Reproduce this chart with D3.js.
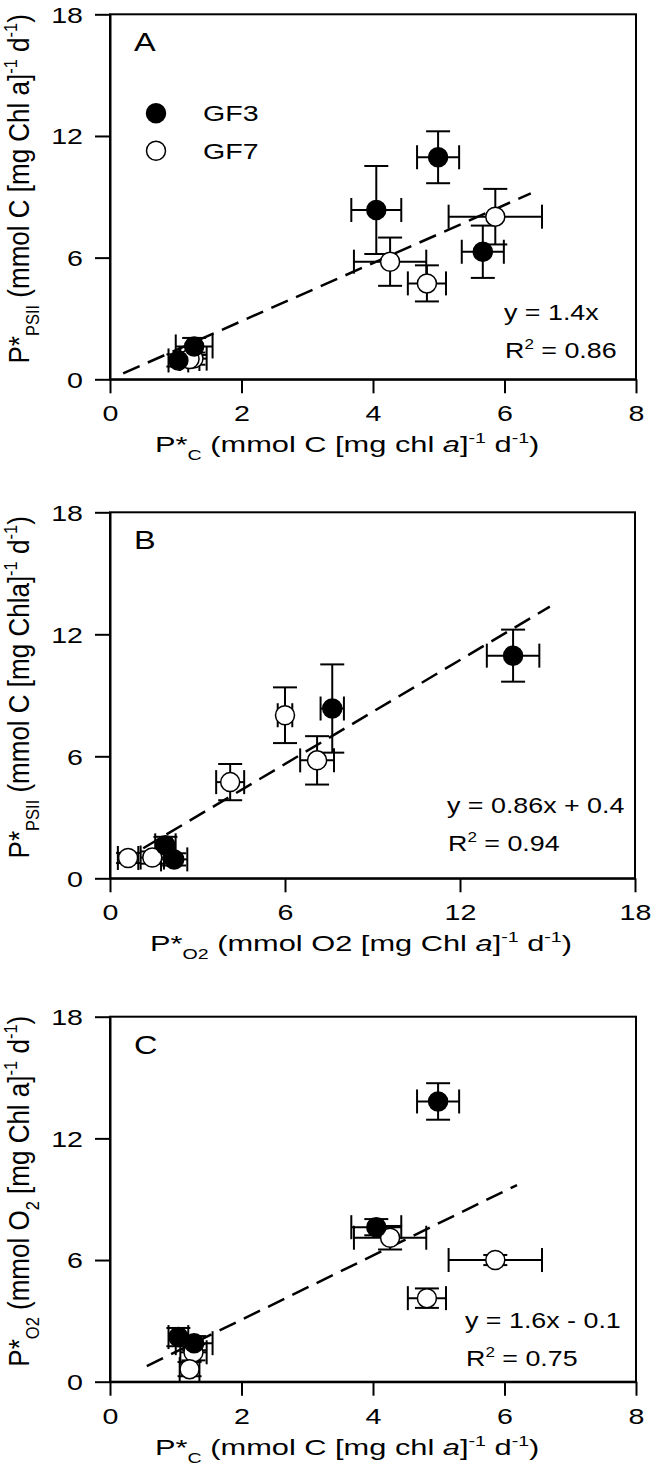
<!DOCTYPE html>
<html><head><meta charset="utf-8">
<script src="https://cdn.jsdelivr.net/npm/d3@7"></script>
<style>
body{margin:0;background:#fff}
svg{display:block}
text{font-family:Arial,"Liberation Sans",sans-serif;fill:#000}
</style>
</head><body>
<svg id="chart" width="651" height="1477"></svg>
<script>
// ---------- data ----------
const seriesNames = ["GF3", "GF7"];
// GF3 (filled circles)
const gf3_pc      = [4.99, 4.05, 5.67, 1.28, 1.04];
const gf3_pcErr   = [0.32, 0.38, 0.32, 0.28, 0.15];
const gf3_psii    = [10.95, 8.35, 6.29, 1.62, 0.93];
const gf3_psiiErr = [1.28, 2.17, 1.29, 0.42, 0.30];
const gf3_o2      = [13.82, 7.62, null, 1.90, 2.20];
const gf3_o2Err   = [0.90, 0.40, null, 0.35, 0.45];
// GF7 (open circles)
const gf7_pc      = [5.86, 4.26, 4.82, 1.27, 1.21];
const gf7_pcErr   = [0.71, 0.55, 0.29, 0.20, 0.15];
const gf7_psii    = [8.02, 5.80, 4.73, 1.02, 1.00];
const gf7_psiiErr = [1.37, 1.19, 0.89, 0.30, 0.25];
const gf7_o2      = [6.00, 7.10, 4.12, 1.45, 0.62];
const gf7_o2Err   = [0.25, 0.58, 0.48, 0.40, 0.35];
// axis ticks
const ticksPC  = [0, 2, 4, 6, 8];
const ticksO2x = [0, 6, 12, 18];
const ticksY   = [0, 6, 12, 18];
// regression lines (end points)
const fitA = [[0.2, 0.29], [6.4, 9.17]];
const fitB = [[1.14, 1.48], [15.08, 13.36]];
const fitC = [[0.56, 0.77], [6.19, 9.70]];
const eqA = ["y = 1.4x", "0.86"];
const eqB = ["y = 0.86x + 0.4", "0.94"];
const eqC = ["y = 1.6x - 0.1", "0.75"];
const panelLetters = ["A", "B", "C"];

// ---------- build ----------
const svg = d3.select("#chart");
const FS = 22;      // text size
const SX = 1.3;     // horizontal stretch of the lettering in the figure
const SXEQ = 1.22;

function makeSeries(xs, xe, ys, ye, filled) {
  return xs.map((x, i) => ({x, xe: xe[i], y: ys[i], ye: ye[i], filled}))
           .filter(d => d.x != null && d.y != null);
}

// rich text helper: parts = [text, mode] where mode: n, sub, sup, it
function rich(sel, parts, subSize, subDy, supDy) {
  let shift = 0;
  parts.forEach(([t, m]) => {
    const ts = sel.append("tspan").text(t);
    let target = 0;
    if (m === "sub") target = subDy;
    if (m === "sup") target = supDy;
    ts.attr("dy", target - shift);
    shift = target;
    if (m === "sub" || m === "sup") ts.attr("font-size", subSize);
    if (m === "it") ts.attr("font-style", "italic");
  });
}

function sText(g, x, y, s, size) {
  return g.append("text").attr("transform", `translate(${x},${y}) scale(${s},1)`)
    .attr("font-size", size);
}

const panels = [
  {
    letter: panelLetters[0],
    x0: 110, x1: 636, yTop: 14.3, yBot: 379.3,
    xDomain: [0, 8], xTicks: ticksPC, yTicks: ticksY,
    data: [makeSeries(gf3_pc, gf3_pcErr, gf3_psii, gf3_psiiErr, true),
           makeSeries(gf7_pc, gf7_pcErr, gf7_psii, gf7_psiiErr, false)],
    fit: fitA, eq: eqA, eqX: 504, eqY: 320,
    xTitle: [["P*","n"],["C","sub"],[" (mmol C [mg chl ","n"],["a","it"],["]","n"],["-1","sup"],[" d","n"],["-1","sup"],[")","n"]],
    yTitle: [["P*","n"],["PSII","sub"],[" (mmol C [mg Chl a]","n"],["-1","sup"],[" d","n"],["-1","sup"],[")","n"]],
    xTitleX: 155, legend: true
  },
  {
    letter: panelLetters[1],
    x0: 110, x1: 635, yTop: 512.3, yBot: 878.3,
    xDomain: [0, 18], xTicks: ticksO2x, yTicks: ticksY,
    data: [makeSeries(gf3_o2, gf3_o2Err, gf3_psii, gf3_psiiErr, true),
           makeSeries(gf7_o2, gf7_o2Err, gf7_psii, gf7_psiiErr, false)],
    fit: fitB, eq: eqB, eqX: 447, eqY: 813,
    xTitle: [["P*","n"],["O2","sub"],[" (mmol O2 [mg Chl ","n"],["a","it"],["]","n"],["-1","sup"],[" d","n"],["-1","sup"],[")","n"]],
    yTitle: [["P*","n"],["PSII","sub"],[" (mmol C [mg Chla]","n"],["-1","sup"],[" d","n"],["-1","sup"],[")","n"]],
    xTitleX: 150, legend: false
  },
  {
    letter: panelLetters[2],
    x0: 110, x1: 636, yTop: 1016.7, yBot: 1381.7,
    xDomain: [0, 8], xTicks: ticksPC, yTicks: ticksY,
    data: [makeSeries(gf3_pc, gf3_pcErr, gf3_o2, gf3_o2Err, true),
           makeSeries(gf7_pc, gf7_pcErr, gf7_o2, gf7_o2Err, false)],
    fit: fitC, eq: eqC, eqX: 465, eqY: 1328,
    xTitle: [["P*","n"],["C","sub"],[" (mmol C [mg chl ","n"],["a","it"],["]","n"],["-1","sup"],[" d","n"],["-1","sup"],[")","n"]],
    yTitle: [["P*","n"],["O2","sub"],[" (mmol O","n"],["2","sub"],[" [mg Chl a]","n"],["-1","sup"],[" d","n"],["-1","sup"],[")","n"]],
    xTitleX: 155, legend: false
  }
];

const CAP = 12, R = 9.5;

panels.forEach(p => {
  const g = svg.append("g");
  const x = d3.scaleLinear().domain(p.xDomain).range([p.x0, p.x1]);
  const y = d3.scaleLinear().domain([0, 18]).range([p.yBot, p.yTop]);

  // frame (top + right)
  g.append("rect").attr("x", p.x0).attr("y", p.yTop)
    .attr("width", p.x1 - p.x0).attr("height", p.yBot - p.yTop)
    .attr("fill", "none").attr("stroke", "#000").attr("stroke-width", 2);

  // axes
  const ax = g.append("g").attr("transform", `translate(0,${p.yBot})`)
    .call(d3.axisBottom(x).tickValues(p.xTicks).tickSize(14).tickSizeOuter(0).tickFormat(d3.format("d")));
  const ay = g.append("g").attr("transform", `translate(${p.x0},0)`)
    .call(d3.axisLeft(y).tickValues(p.yTicks).tickSize(15).tickSizeOuter(0).tickFormat(d3.format("d")));
  [ax, ay].forEach(a => {
    a.select(".domain").attr("stroke", "#000").attr("stroke-width", 2);
    a.selectAll(".tick line").attr("stroke", "#000").attr("stroke-width", 2);
    a.selectAll("text").attr("font-size", FS).attr("font-family", null).attr("fill", "#000");
  });
  ax.selectAll("text").attr("x", 0).attr("y", 0).attr("dy", 0)
    .attr("transform", `translate(0,42) scale(${SX},1)`);
  ay.selectAll("text").attr("x", 0).attr("dy", "0.36em")
    .attr("transform", `translate(-27,0) scale(${SX},1)`);

  // regression line
  g.append("line")
    .attr("x1", x(p.fit[0][0])).attr("y1", y(p.fit[0][1]))
    .attr("x2", x(p.fit[1][0])).attr("y2", y(p.fit[1][1]))
    .attr("stroke", "#000").attr("stroke-width", 2.5).attr("stroke-dasharray", "18,9");

  // error bars
  const all = p.data[0].concat(p.data[1]);
  const eb = g.append("g").attr("stroke", "#000").attr("stroke-width", 2).attr("fill", "none");
  all.forEach(d => {
    const cx = x(d.x), cy = y(d.y);
    const xl = x(d.x - d.xe), xr = x(d.x + d.xe);
    const yt = y(d.y + d.ye), yb = y(d.y - d.ye);
    eb.append("line").attr("x1", xl).attr("x2", xr).attr("y1", cy).attr("y2", cy);
    eb.append("line").attr("x1", xl).attr("x2", xl).attr("y1", cy - CAP).attr("y2", cy + CAP);
    eb.append("line").attr("x1", xr).attr("x2", xr).attr("y1", cy - CAP).attr("y2", cy + CAP);
    eb.append("line").attr("x1", cx).attr("x2", cx).attr("y1", yt).attr("y2", yb);
    eb.append("line").attr("x1", cx - CAP).attr("x2", cx + CAP).attr("y1", yt).attr("y2", yt);
    eb.append("line").attr("x1", cx - CAP).attr("x2", cx + CAP).attr("y1", yb).attr("y2", yb);
  });

  // points
  [p.data[1], p.data[0]].forEach(s => {
    g.selectAll(null).data(s).enter().append("circle")
      .attr("cx", d => x(d.x)).attr("cy", d => y(d.y)).attr("r", R)
      .attr("fill", d => d.filled ? "#000" : "#fff")
      .attr("stroke", "#000").attr("stroke-width", 1.5);
  });

  // panel letter
  sText(g, p.x0 + 24, p.yTop + 37, SX, 25).text(p.letter);

  // equation
  sText(g, p.eqX, p.eqY, SXEQ, FS).text(p.eq[0]);
  const r2 = sText(g, p.eqX + 1, p.eqY + 38, SXEQ, FS);
  rich(r2, [["R","n"],["2","sup"],[" = " + p.eq[1],"n"]], 14, 8, -9);

  // axis titles
  const xt = sText(g, p.xTitleX, p.yBot + 73, 1.4, FS);
  rich(xt, p.xTitle, 14, 8, -9);
  const cyMid = (p.yTop + p.yBot) / 2 - 8;
  const ytt = g.append("text")
    .attr("transform", `translate(29,${cyMid}) scale(1.1,1) rotate(-90)`)
    .attr("text-anchor", "middle").attr("font-size", 26);
  rich(ytt, p.yTitle, 16.5, 9, -10.5);

  // legend
  if (p.legend) {
    const lg = g.append("g");
    seriesNames.forEach((n, i) => {
      const ly = 113.3 + i * 37.4;
      lg.append("circle").attr("cx", 156).attr("cy", ly).attr("r", R)
        .attr("fill", i === 0 ? "#000" : "#fff").attr("stroke", "#000").attr("stroke-width", 1.5);
      sText(lg, 203, ly, SX, FS).attr("dy", "0.36em").text(n);
    });
  }
});
</script>
</body></html>
